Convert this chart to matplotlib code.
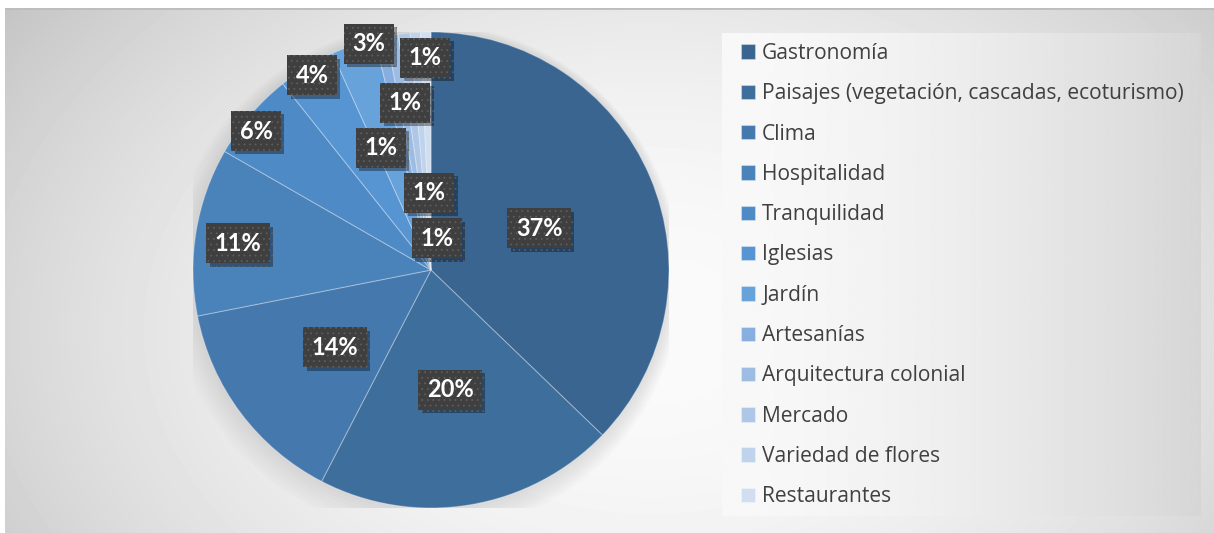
import numpy as np
import matplotlib
matplotlib.use("Agg")
import matplotlib.pyplot as plt
from matplotlib import patheffects as pe

# data (percent shares)
CATEGORIES = [
    "Gastronomía",
    "Paisajes (vegetación, cascadas, ecoturismo)",
    "Clima",
    "Hospitalidad",
    "Tranquilidad",
    "Iglesias",
    "Jardín",
    "Artesanías",
    "Arquitectura colonial",
    "Mercado",
    "Variedad de flores",
    "Restaurantes",
]
VALUES = [37.2, 20.4, 14.3, 11.4, 6.0, 3.9, 3.0, 0.8, 0.8, 0.8, 0.7, 0.7]

COLORS = ["#3a6590", "#3e6e9c", "#4578ad", "#4a82ba", "#4e8bc6", "#5694d2",
          "#67a2da", "#86aedf", "#9cbce3", "#aec7e7", "#bfd3ec", "#d0def0"]

# label anchor points in pie units (Excel "best fit" placement)
LABEL_XY = [(0.454, 0.176), (0.080, -0.504), (-0.403, -0.324), (-0.811, 0.113),
            (-0.735, 0.584), (-0.500, 0.819), (-0.261, 0.950), (-0.025, 0.891),
            (-0.109, 0.702), (-0.210, 0.513), (-0.008, 0.324), (0.025, 0.134)]

W, H = 1214, 533
fig = plt.figure(figsize=(W / 100, H / 100), dpi=100)
fig.patch.set_facecolor("white")

# chart area background: soft radial gradient
bg = fig.add_axes([5 / W, 0, (W - 5) / W, (H - 8) / H])
bg.set_axis_off()
yy, xx = np.mgrid[0:H - 8, 0:W - 5]
r2 = ((xx - 645) / 750.0) ** 2 + ((yy + 8 - 330) / 520.0) ** 2
shade = np.clip(250 - 48 * r2, 188, 250) / 255.0
bg.imshow(shade, cmap="gray", vmin=0, vmax=1, aspect="auto",
          extent=[0, 1, 0, 1], origin="upper")
bg.axhline(1, color="#bdbdbd", lw=2)
bg.set_xlim(0, 1)
bg.set_ylim(0, 1)

# legend box gradient
lx0, lx1, ly0, ly1 = 722, 1201, 33, 516
lg = fig.add_axes([lx0 / W, (H - ly1) / H, (lx1 - lx0) / W, (ly1 - ly0) / H])
lg.set_axis_off()
t = np.linspace(0, 1, 400)
row = 248 - 34 * t ** 1.6
lg.imshow(np.tile(row / 255.0, (10, 1)), cmap="gray", vmin=0, vmax=1,
          aspect="auto", extent=[0, 1, 0, 1])

# pie
cx, cy, R = 431, 270, 238
ax = fig.add_axes([(cx - R) / W, (H - cy - R) / H, 2 * R / W, 2 * R / H])

# soft shadow behind the pie
for k in range(8):
    ax.add_patch(plt.Circle((-0.003 * k, -0.005 * k), 1.0 + 0.01 * k,
                            color="#8a8a8a", alpha=0.03, lw=0, zorder=0))

wedges, _ = ax.pie(VALUES, colors=COLORS, startangle=90, counterclock=False,
                   radius=1.0, frame=True,
                   wedgeprops=dict(edgecolor=(1, 1, 1, 0.3), linewidth=0.8))
ax.set_xlim(-1, 1)
ax.set_ylim(-1, 1)
ax.set_axis_off()

plt.rcParams["hatch.linewidth"] = 0.55
for v, (x, y) in zip(VALUES, LABEL_XY):
    txt = ax.text(x, y, f"{round(v):.0f}%", ha="center", va="center",
                  color="white", fontsize=17, fontweight="bold",
                  family="Lato", zorder=5,
                  bbox=dict(boxstyle="square,pad=0.36", fc="#3f3f3f",
                            ec="#5e5e5e", lw=0, hatch="..."))
    txt.get_bbox_patch().set_path_effects(
        [pe.SimplePatchShadow(offset=(2.5, -2.5), shadow_rgbFace="black", alpha=0.35),
         pe.Normal()])

fig.legend(wedges, CATEGORIES, loc="upper left",
           bbox_to_anchor=(741 / W, (H - 43) / H), frameon=False,
           prop=dict(family="Open Sans", size=15.1), labelcolor="#404040",
           handlelength=0.68, handleheight=0.68, handletextpad=0.33,
           labelspacing=0.92, borderpad=0, borderaxespad=0)

fig.savefig("out.png", dpi=100)
